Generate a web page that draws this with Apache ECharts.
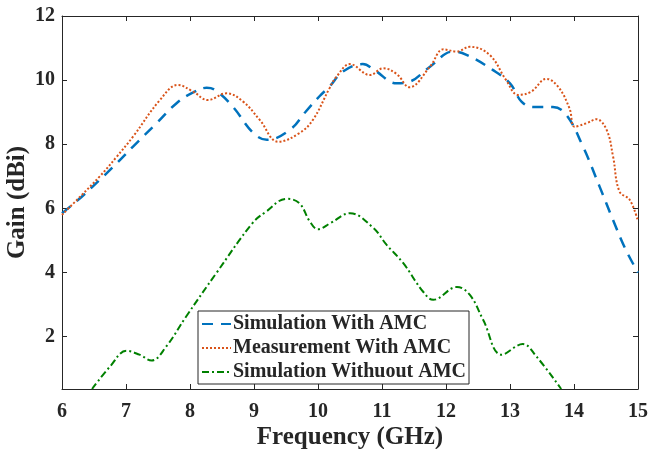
<!DOCTYPE html>
<html><head><meta charset="utf-8">
<script src="https://cdn.jsdelivr.net/npm/echarts@6/dist/echarts.min.js"></script>
<style>html,body{margin:0;padding:0;background:#fff}#c{width:651px;height:449px}</style>
</head><body><div id="c"></div>
<script>
const simWithAMC = [[6,5.85],[6.3,6.35],[6.59,6.89],[6.85,7.4],[7.11,7.93],[7.45,8.6],[7.79,9.28],[8.05,9.62],[8.26,9.76],[8.4,9.68],[8.67,9.17],[8.99,8.35],[9.2,8.14],[9.56,8.45],[9.8,9.0],[10.02,9.49],[10.18,9.8],[10.39,10.27],[10.7,10.5],[10.89,10.3],[11.23,9.9],[11.43,9.95],[11.75,10.42],[12.11,10.89],[12.32,10.79],[12.73,10.32],[13.0,9.9],[13.18,9.33],[13.36,9.16],[13.67,9.16],[13.88,8.92],[14.14,7.93],[14.4,6.68],[14.61,5.64],[14.8,4.75],[15,4.0]];
const measWithAMC = [[6,5.8],[6.3,6.4],[6.59,7.0],[6.85,7.6],[7.11,8.24],[7.53,9.38],[7.81,9.85],[8.05,9.64],[8.28,9.38],[8.57,9.59],[8.83,9.33],[9.09,8.76],[9.38,8.08],[9.71,8.35],[9.92,8.76],[10.18,9.75],[10.29,10.11],[10.5,10.5],[10.81,10.16],[11.02,10.37],[11.23,10.19],[11.43,9.78],[11.75,10.42],[11.96,10.96],[12.17,10.89],[12.37,11.04],[12.68,10.79],[12.94,10.0],[13.13,9.54],[13.33,9.64],[13.57,10.04],[13.75,9.8],[13.93,9.12],[14.01,8.55],[14.2,8.66],[14.35,8.78],[14.51,8.45],[14.61,7.62],[14.71,6.53],[14.87,6.27],[15,5.6]];
const simWithoutAMC = [[6.47,0.37],[6.75,1.07],[7.01,1.56],[7.21,1.44],[7.4,1.26],[7.63,1.7],[7.94,2.63],[8.41,3.98],[8.98,5.55],[9.19,5.9],[9.51,6.3],[9.71,6.16],[9.87,5.6],[10.0,5.35],[10.2,5.55],[10.5,5.85],[10.86,5.4],[11.07,4.87],[11.33,4.3],[11.64,3.41],[11.8,3.15],[12.17,3.55],[12.37,3.31],[12.58,2.53],[12.87,1.44],[13.2,1.77],[13.41,1.39],[13.8,0.37]];
const seriesNames = ['Simulation With AMC','Measurement With AMC','Simulation Withuout AMC'];
const yTicks = [2,4,6,8,10,12];

const font = 'Liberation Serif';
const txt = '#262626';
const chart = echarts.init(document.getElementById('c'), null, {renderer:'canvas'});
const tickStyle = {show:true, inside:true, length:5, lineStyle:{color:txt,width:1}};
chart.setOption({
  animation:false,
  grid:{left:62,right:13,top:16,bottom:60,show:false,containLabel:false,outerBoundsMode:'none'},
  legend:{
    show:true, left:198, top:311, orient:'vertical', itemWidth:29, itemHeight:14, itemGap:4,
    padding:[3,3,2,3], borderColor:'#262626', borderWidth:1, backgroundColor:'#fff',
    itemStyle:{opacity:0},
    textStyle:{fontFamily:font,fontWeight:'bold',fontSize:20,color:txt,padding:[0,0,0,-3]},
    data:seriesNames.map(n=>({name:n}))
  },
  xAxis:[{
    type:'value', min:6, max:15, interval:1,
    name:'Frequency (GHz)', nameLocation:'middle', nameGap:36, nameMoveOverlap:false,
    nameTextStyle:{fontFamily:font,fontWeight:'bold',fontSize:25,color:txt},
    axisLine:{show:true,lineStyle:{color:txt,width:1}},
    axisTick:tickStyle,
    axisLabel:{fontFamily:font,fontWeight:'bold',fontSize:20,color:txt,margin:13},
    splitLine:{show:false}
  },{
    type:'value', min:6, max:15, interval:1, position:'top',
    axisLine:{show:true,lineStyle:{color:txt,width:1}},
    axisTick:tickStyle, axisLabel:{show:false}, splitLine:{show:false}
  }],
  yAxis:[{
    type:'value', min:0.37, max:12,
    name:'Gain (dBi)', nameLocation:'middle', nameGap:32, nameMoveOverlap:false,
    nameTextStyle:{fontFamily:font,fontWeight:'bold',fontSize:25,color:txt},
    axisLine:{show:true,lineStyle:{color:txt,width:1}},
    axisTick:Object.assign({customValues:yTicks},tickStyle),
    axisLabel:{fontFamily:font,fontWeight:'bold',fontSize:20,color:txt,margin:7,customValues:yTicks},
    splitLine:{show:false}
  },{
    type:'value', min:0.37, max:12, position:'right',
    axisLine:{show:true,lineStyle:{color:txt,width:1}},
    axisTick:Object.assign({customValues:yTicks},tickStyle),
    axisLabel:{show:false,customValues:yTicks}, splitLine:{show:false}
  }],
  series:[
    {name:seriesNames[0],type:'line',data:simWithAMC,symbol:'none',smooth:0.4,clip:true,
     lineStyle:{color:'#0072BD',width:2.5,type:[11,8]},itemStyle:{color:'#0072BD'}},
    {name:seriesNames[1],type:'line',data:measWithAMC,symbol:'none',smooth:0.4,clip:true,
     lineStyle:{color:'#D95319',width:2,type:[2,2]},itemStyle:{color:'#D95319'}},
    {name:seriesNames[2],type:'line',data:simWithoutAMC,symbol:'none',smooth:0.4,clip:true,
     lineStyle:{color:'#008000',width:2,type:[7,3,2,3]},itemStyle:{color:'#008000'}}
  ]
});
</script></body></html>
